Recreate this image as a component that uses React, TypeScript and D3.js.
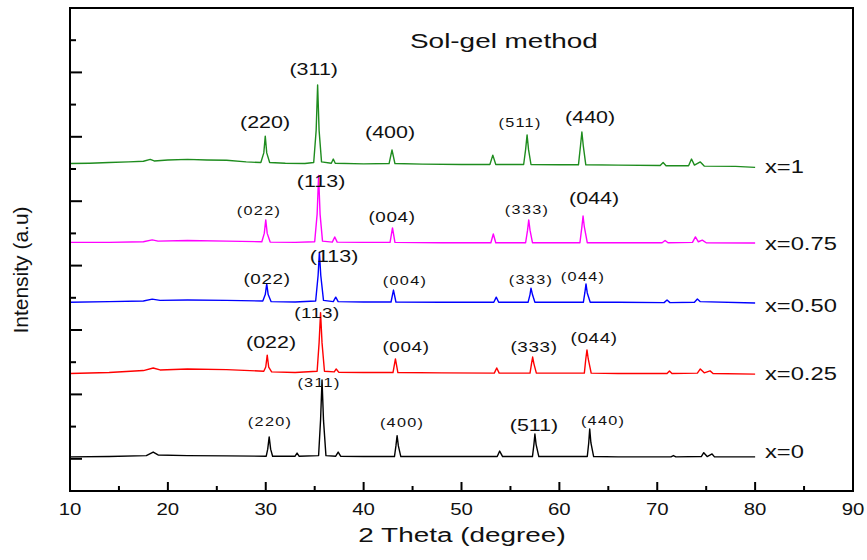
import React from "react";
import * as d3 from "d3";

// XRD patterns, [2theta, intensity offset in a.u.]
const seriesNames = ["x=0", "x=0.25", "x=0.50", "x=0.75", "x=1"];

const x0 = [[10,1.06],[14,1.07],[17.8,1.1],[18.5,1.21],[19,1.12],[22,1.1],[26,1.09],[30.05,1.08],[30.2,1.3],[30.35,1.68],[30.5,1.3],[30.7,1.08],[33.0,1.08],[33.2,1.18],[33.4,1.08],[35.4,1.1],[35.6,2.2],[35.75,3.45],[35.9,2.2],[36.15,1.1],[37.15,1.08],[37.4,1.21],[37.65,1.08],[40,1.07],[43.15,1.07],[43.3,1.4],[43.42,1.72],[43.55,1.4],[43.8,1.07],[48,1.07],[53.65,1.07],[53.9,1.24],[54.2,1.07],[57.25,1.07],[57.4,1.45],[57.5,1.77],[57.62,1.45],[57.9,1.07],[60,1.07],[62.85,1.07],[63.0,1.5],[63.1,1.93],[63.22,1.5],[63.5,1.07],[66,1.06],[71.4,1.06],[71.65,1.1],[71.9,1.06],[74.5,1.07],[74.75,1.19],[75.1,1.07],[75.6,1.15],[75.85,1.06],[80,1.06]];

const x025 = [[10,3.65],[14,3.68],[17.5,3.74],[18.5,3.82],[19.2,3.76],[22,3.79],[26,3.77],[29.8,3.72],[30.0,3.85],[30.15,4.22],[30.3,3.85],[30.6,3.7],[33,3.68],[35.25,3.72],[35.45,4.6],[35.6,5.54],[35.75,4.6],[36.0,3.72],[37.0,3.7],[37.2,3.79],[37.45,3.69],[40,3.68],[43.0,3.68],[43.25,4.1],[43.5,3.68],[48,3.67],[53.35,3.66],[53.6,3.82],[53.85,3.66],[57.0,3.66],[57.15,3.95],[57.27,4.16],[57.4,3.95],[57.65,3.66],[60,3.66],[62.55,3.66],[62.7,4.1],[62.82,4.38],[62.95,4.1],[63.25,3.66],[66,3.65],[71.0,3.65],[71.25,3.73],[71.5,3.65],[74.1,3.66],[74.4,3.79],[74.8,3.67],[75.4,3.73],[75.7,3.65],[80,3.63]];

const x050 = [[10,5.86],[14,5.88],[17.5,5.9],[18.4,5.96],[19.2,5.92],[22,5.93],[26,5.92],[29.7,5.9],[29.95,6.1],[30.1,6.43],[30.25,6.1],[30.55,5.88],[33,5.87],[35.1,5.9],[35.35,6.7],[35.48,7.42],[35.62,6.7],[35.9,5.92],[36.9,5.88],[37.15,6.02],[37.4,5.88],[40,5.87],[42.8,5.87],[43.05,6.24],[43.3,5.87],[48,5.86],[53.3,5.86],[53.55,6.02],[53.8,5.86],[56.8,5.86],[57.0,6.1],[57.1,6.3],[57.25,6.1],[57.5,5.86],[60,5.86],[62.45,5.86],[62.6,6.15],[62.72,6.43],[62.85,6.15],[63.15,5.86],[66,5.86],[70.7,5.85],[71.0,5.93],[71.3,5.85],[73.8,5.86],[74.1,5.96],[74.4,5.88],[80,5.84]];

const x075 = [[10,7.72],[14,7.72],[17.5,7.74],[18.4,7.8],[19,7.76],[22,7.78],[26,7.76],[29.6,7.74],[29.85,8.0],[30.0,8.42],[30.15,8.0],[30.45,7.73],[33,7.72],[35.0,7.74],[35.25,8.6],[35.4,9.8],[35.55,8.6],[35.8,7.76],[36.8,7.73],[37.05,7.89],[37.3,7.73],[40,7.72],[42.7,7.72],[42.95,8.17],[43.2,7.72],[48,7.71],[53.0,7.71],[53.25,7.98],[53.5,7.71],[56.55,7.71],[56.75,8.1],[56.87,8.42],[57.0,8.1],[57.25,7.71],[60,7.71],[62.1,7.71],[62.3,8.2],[62.42,8.54],[62.55,8.2],[62.85,7.71],[66,7.71],[70.5,7.71],[70.8,7.78],[71.1,7.71],[73.6,7.72],[73.9,7.89],[74.2,7.74],[74.6,7.79],[75,7.71],[80,7.7]];

const x1 = [[10,10.17],[12,10.18],[14,10.2],[16,10.22],[17.5,10.24],[18.2,10.3],[18.6,10.25],[20,10.28],[22,10.3],[24,10.28],[26,10.27],[28,10.22],[29.5,10.2],[29.8,10.5],[29.95,11.02],[30.1,10.5],[30.4,10.2],[32,10.18],[34,10.17],[34.9,10.2],[35.15,11.2],[35.3,12.61],[35.45,11.2],[35.7,10.22],[36.7,10.18],[36.9,10.31],[37.1,10.18],[40,10.16],[42.6,10.17],[42.9,10.59],[43.2,10.17],[46,10.15],[50,10.14],[52.9,10.14],[53.2,10.43],[53.5,10.14],[56.35,10.14],[56.55,10.6],[56.7,11.06],[56.85,10.6],[57.1,10.14],[60,10.13],[61.95,10.13],[62.15,10.7],[62.3,11.15],[62.45,10.7],[62.7,10.13],[66,10.12],[70.3,10.11],[70.6,10.2],[70.9,10.1],[73.2,10.1],[73.5,10.31],[73.8,10.12],[74.4,10.22],[74.8,10.09],[78,10.08],[80,10.05]];

const seriesData = [x0, x025, x050, x075, x1];
const seriesColors = ["#000000", "#ff0000", "#0000ff", "#ff00ff", "#1e8c1e"];
// where each "x=" tag sits, [2theta, level]
const seriesTagAt = [[81, 1.02], [81, 3.45], [81, 5.56], [81, 7.48], [81, 9.88]];

// peak indices: [text, 2theta, level, size]
const hklX0 = [["(220)",30.44,2.02,"S"],["(311)",35.44,3.23,"S"],["(400)",43.93,1.99,"S"],["(511)",57.41,1.86,"L"],["(440)",64.47,2.05,"S"]];
const hklX025 = [["(022)",30.54,4.44,"L"],["(113)",35.24,5.37,"M"],["(004)",44.33,4.32,"M"],["(333)",57.41,4.32,"M"],["(044)",63.55,4.6,"M"]];
const hklX050 = [["(022)",30.13,6.43,"M"],["(113)",36.98,7.11,"L"],["(004)",44.23,6.4,"S"],["(333)",57.1,6.43,"S"],["(044)",62.42,6.52,"S"]];
const hklX075 = [["(022)",29.31,8.57,"S"],["(113)",35.65,9.44,"L"],["(004)",42.9,8.35,"M"],["(333)",56.7,8.6,"S"],["(044)",63.55,8.91,"L"]];
const hklX1 = [["(220)",29.93,11.27,"L"],["(311)",34.9,12.92,"L"],["(400)",42.7,10.96,"L"],["(511)",55.98,11.3,"S"],["(440)",63.14,11.43,"L"]];
const hklAll = [hklX0, hklX025, hklX050, hklX075, hklX1];

const xMajor = [10, 20, 30, 40, 50, 60, 70, 80, 90];
const xMinor = [15, 25, 35, 45, 55, 65, 75, 85];
const yTicks = d3.range(1, 15);

const FONT = "'Liberation Sans', Arial, sans-serif";
const sizeStyle = { L: { fs: 16.5, ls: 0 }, M: { fs: 14.5, ls: 0.5 }, S: { fs: 12.5, ls: 1 } };

const SText = ({ x, y, size, sx = 1.3, anchor = "middle", ls = 0, children }) =>
  <g transform={`translate(${x},${y}) scale(${sx},1)`}>
    <text fontSize={size} textAnchor={anchor} letterSpacing={ls} fill="#111">{children}</text>
  </g>;

export default function App() {
  const left = 70, right = 853, top = 8, bottom = 491;
  const x = d3.scaleLinear().domain([10, 90]).range([left, right]);
  const y = d3.scaleLinear().domain([0, 15]).range([bottom, top]);
  const line = d3.line().x(d => x(d[0])).y(d => y(d[1]));

  return (
    <svg width="867" height="560" style={{ position: "absolute", left: 0, top: 0, background: "#fff" }} fontFamily={FONT}>
      {seriesData.map((s, i) =>
        <path key={i} d={line(s)} fill="none" stroke={seriesColors[i]} strokeWidth="1.4" strokeLinejoin="round" />)}

      {hklAll.map((arr, i) => arr.map((h, j) => {
        const st = sizeStyle[h[3]];
        return <SText key={i + "-" + j} x={x(h[1])} y={y(h[2])} size={st.fs} ls={st.ls}>{h[0]}</SText>;
      }))}

      {seriesNames.map((n, i) =>
        <SText key={n} x={x(seriesTagAt[i][0])} y={y(seriesTagAt[i][1])} size={18} anchor="start" sx={1.32}>{n}</SText>)}

      <SText x={410} y={48} size={21} anchor="start" sx={1.33}>Sol-gel method</SText>

      {/* frame */}
      <rect x={left} y={top} width={right - left} height={bottom - top} fill="none" stroke="#000" strokeWidth="2" />

      {xMajor.map(t => <line key={t} x1={x(t)} x2={x(t)} y1={bottom} y2={bottom - 9} stroke="#000" strokeWidth="2" />)}
      {xMinor.map(t => <line key={t} x1={x(t)} x2={x(t)} y1={bottom} y2={bottom - 5} stroke="#000" strokeWidth="2" />)}
      {yTicks.map(t => <line key={t} x1={left} x2={left + (t % 2 === 1 ? 12 : 6)} y1={y(t)} y2={y(t)} stroke="#000" strokeWidth="2" />)}

      {xMajor.map(t => <SText key={t} x={x(t)} y={515} size={17} sx={1.2}>{t}</SText>)}

      <SText x={462} y={542} size={21} sx={1.33}>2 Theta (degree)</SText>
      <g transform="translate(28,270) rotate(-90)">
        <text fontSize={21} textAnchor="middle" fill="#111">Intensity (a.u)</text>
      </g>
    </svg>
  );
}
